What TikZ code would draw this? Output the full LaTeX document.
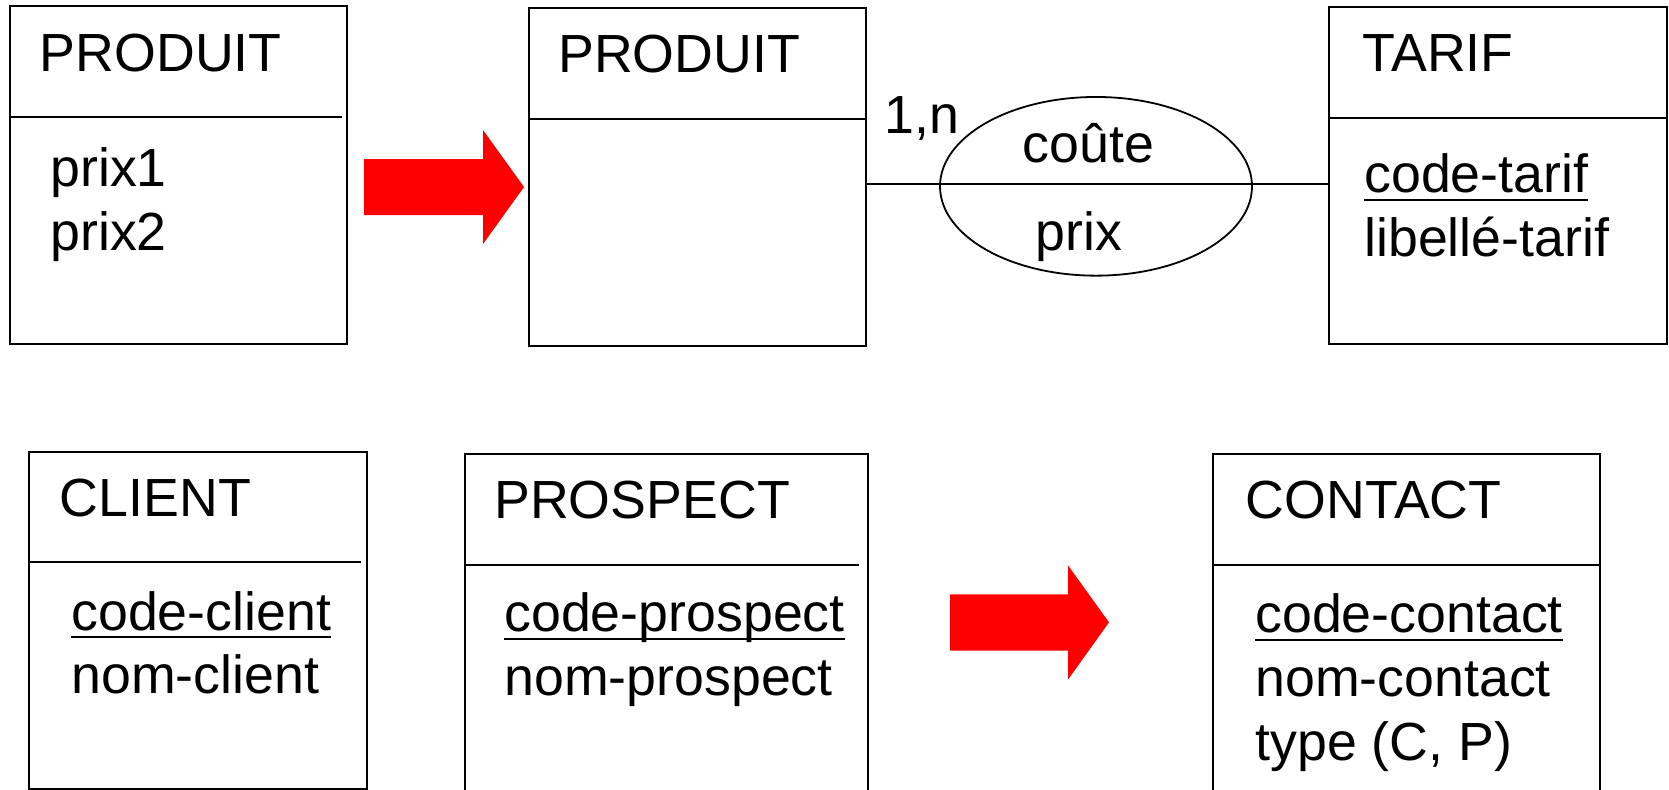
\documentclass[tikz,border=0pt]{standalone}
\usepackage{fontspec}
\setmainfont{Liberation Sans}
\usetikzlibrary{shapes.geometric}

% key attribute: underline at a fixed distance below the baseline
\newcommand\keyattr[1]{\setbox0\hbox{#1}\rlap{\rule[-3.9pt]{\wd0}{1pt}}\box0}

\tikzset{
  ent/.style={draw, line width=1pt, rectangle, inner sep=0pt, anchor=north west},
  sep/.style={line width=1pt},
  txt/.style={anchor=base west, inner sep=0pt, font=\fontsize{26.85pt}{32pt}\selectfont},
  rel/.style={draw, ellipse, line width=0.9pt, inner sep=0pt},
  link/.style={line width=0.9pt},
  bigarrow/.style={fill=red, draw=none}
}

\begin{document}
\begin{tikzpicture}[x=0.5pt, y=-0.5pt]
\useasboundingbox (0,0) rectangle (1669,789);
\clip (0,0) rectangle (1669,789);

% ---- upper row: PRODUIT with two prices ----
\node[ent, minimum width=168.7pt, minimum height=168.85pt] (p1) at (9,5) {};
\draw[sep] (p1.west |- 0,117) -- (342,117);
\node[txt] (p1t) at (39.5,71) {PRODUIT};
\node[txt] (p1a) at (50,186) {prix1};
\node[txt] (p1b) at (50,250) {prix2};

\fill[bigarrow] (364,159) -- (483,159) -- (483,130) -- (524,187)
  -- (483,244) -- (483,215) -- (364,215) -- cycle;

% ---- PRODUIT -- coute -- TARIF ----
\node[ent, minimum width=168.65pt, minimum height=168.85pt] (p2) at (528,7.3) {};
\draw[sep] (p2.west |- 0,119) -- (866,119);
\node[txt] (p2t) at (558,72.7) {PRODUIT};

\node[ent, minimum width=168.7pt, minimum height=168.65pt] (tarif) at (1328.3,6) {};
\draw[sep] (tarif.west |- 0,117.7) -- (1667,117.7);
\node[txt] (tt) at (1362,71.7) {TARIF};
\node[txt] (ta) at (1364,192.7) {\keyattr{code-tarif}};
\node[txt] (tb) at (1364,256.7) {libellé-tarif};

\node[rel, minimum width=156pt, minimum height=89.35pt] (cost) at (1096,186.3) {};
\coordinate (lk) at (1096,184.3);
\draw[link] (p2.east |- lk) -- (tarif.west |- lk);
\node[txt] (cn) at (1022.5,162.3) {coûte};
\node[txt] (cp) at (1035.5,250.7) {prix};
\node[txt] (card) at (884,133.3) {1,n};

% ---- lower row: CLIENT, PROSPECT => CONTACT ----
\node[ent, minimum width=169pt, minimum height=168.5pt] (cl) at (27.7,450.7) {};
\draw[sep] (cl.west |- 0,562.3) -- (360.5,562.3);
\node[txt] (clt) at (59.5,516) {CLIENT};
\node[txt] (cla) at (71,630) {\keyattr{code-client}};
\node[txt] (clb) at (71,693.3) {nom-client};

\node[ent, minimum width=201.4pt, minimum height=168.5pt] (pr) at (464,453.3) {};
\draw[sep] (pr.west |- 0,565) -- (859,565);
\node[txt] (prt) at (494,518.3) {PROSPECT};
\node[txt] (pra) at (504,631.7) {\keyattr{code-prospect}};
\node[txt] (prb) at (504,695) {nom-prospect};

\fill[bigarrow] (950,594.3) -- (1068.2,594.3) -- (1068.2,565.7) -- (1109,622.3)
  -- (1068.2,679.3) -- (1068.2,650.7) -- (950,650.7) -- cycle;

\node[ent, minimum width=193.45pt, minimum height=168.5pt] (ct) at (1212,453.3) {};
\draw[sep] (ct.west |- 0,565) -- (1600,565);
\node[txt] (ctt) at (1245.5,518.3) {CONTACT};
\node[txt] (cta) at (1255,632.7) {\keyattr{code-contact}};
\node[txt] (ctb) at (1255,696.7) {nom-contact};
\node[txt] (ctc) at (1255,760.7) {type (C, P)};
\end{tikzpicture}
\end{document}
